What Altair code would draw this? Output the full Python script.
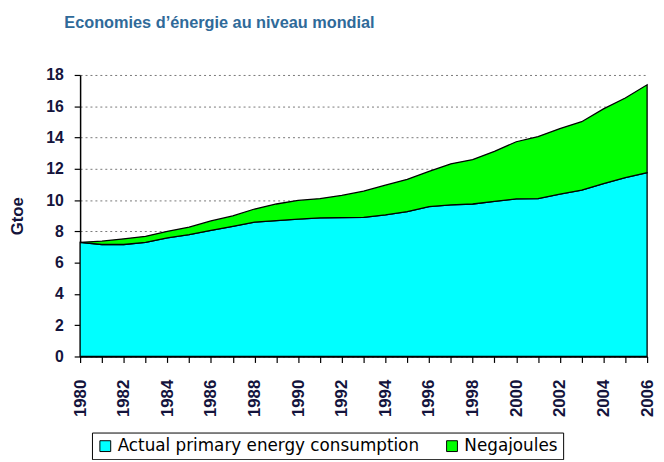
import altair as alt
import pandas as pd

years = list(range(1980, 2007))
actual = [7.30, 7.16, 7.16, 7.30, 7.58, 7.79, 8.06, 8.32, 8.59, 8.69, 8.78, 8.86, 8.88,
          8.90, 9.05, 9.26, 9.58, 9.70, 9.75, 9.92, 10.08, 10.10, 10.38, 10.63, 11.05, 11.43, 11.75]
total = [7.30, 7.37, 7.52, 7.68, 8.00, 8.27, 8.67, 8.99, 9.43, 9.75, 9.98, 10.10, 10.30,
         10.57, 10.95, 11.33, 11.83, 12.32, 12.59, 13.12, 13.73, 14.06, 14.57, 15.01, 15.83, 16.53, 17.37]
series_names = ["Actual primary energy consumption", "Negajoules"]
series_colors = ["#00FFFF", "#00FF00"]
title_text = "Economies d\u2019énergie au niveau mondial"

rows = []
for y, a, t in zip(years, actual, total):
    rows.append({"year": y, "series": series_names[0], "value": a, "order": 0})
    rows.append({"year": y, "series": series_names[1], "value": round(t - a, 3), "order": 1})
df = pd.DataFrame(rows)

chart = alt.Chart(df).mark_area(stroke="black", strokeWidth=1.3).encode(
    x=alt.X("year:Q",
            scale=alt.Scale(domain=[1980, 2006], nice=False, zero=False),
            axis=alt.Axis(values=years, format="d", labelAngle=-90,
                          labelExpr="datum.value % 2 == 0 ? datum.label : ''",
                          grid=False, title=None, labelFontSize=17, labelFontWeight="bold",
                          labelPadding=17, tickSize=6)),
    y=alt.Y("value:Q", stack="zero",
            scale=alt.Scale(domain=[0, 18], nice=False),
            axis=alt.Axis(values=list(range(0, 19, 2)), title="Gtoe", grid=True,
                          gridDash=[2, 3], gridColor="#777777", gridWidth=1,
                          labelFontSize=16, labelFontWeight="bold", labelPadding=11,
                          tickSize=6, titleFontSize=17, titleFontWeight="bold",
                          titlePadding=20)),
    color=alt.Color("series:N",
                    scale=alt.Scale(domain=series_names, range=series_colors),
                    legend=alt.Legend(title=None, orient="none", legendX=12, legendY=362,
                                      direction="horizontal", strokeColor="black",
                                      padding=5, symbolType="square", symbolSize=120,
                                      symbolStrokeColor="black", symbolStrokeWidth=1,
                                      labelFont="DejaVu Sans", labelFontSize=17,
                                      labelColor="black", labelOffset=4,
                                      columnPadding=24, labelLimit=400)),
    order=alt.Order("order:Q"),
).properties(
    width=574,
    height=285,
    title=alt.TitleParams(title_text, anchor="start", frame="group", dx=-16, offset=36,
                          fontSize=16.5, font="Liberation Sans", fontWeight="bold",
                          color="#2F6A99"),
    autosize=alt.AutoSizeParams(type="none"),
    padding={"left": 73, "top": 65, "right": 9, "bottom": 102},
).configure_axis(
    labelFont="Liberation Sans", titleFont="Liberation Sans",
    labelColor="#14143c", titleColor="#14143c",
    domainColor="black", domainWidth=1.5, tickColor="black", tickWidth=1.2,
).configure_view(
    strokeOpacity=0
)

chart.save("out.html", embed_options={"renderer": "svg", "actions": False})
